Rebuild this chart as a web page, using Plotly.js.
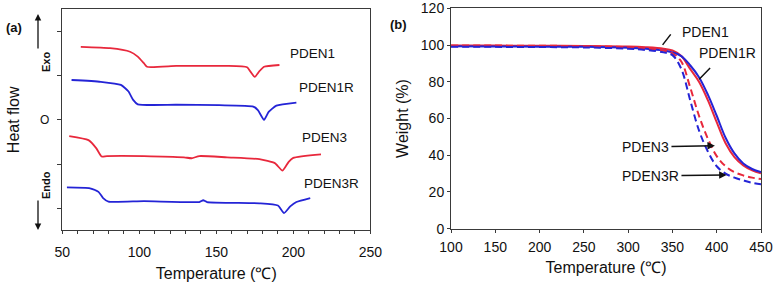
<!DOCTYPE html>
<html>
<head>
<meta charset="utf-8">
<script src="https://cdn.plot.ly/plotly-3.0.1.min.js"></script>
<style>html,body{margin:0;padding:0;background:#fff;}#chart{width:774px;height:286px;}</style>
</head>
<body>
<div id="chart"></div>
<script>
// ---- Panel (a): DSC curves (offset heat flow, arbitrary units) ----
const dscT_PDEN1  = [62, 81, 94, 99, 103, 105, 124, 142, 157, 170, 172, 175, 178, 181, 191];
const dscHF_PDEN1 = [3.65, 3.62, 3.54, 3.43, 3.28, 3.20, 3.22, 3.22, 3.22, 3.19, 3.10, 2.97, 3.10, 3.20, 3.24];

const dscT_PDEN1R  = [56, 75, 88, 93, 96, 99, 124, 152, 174, 177, 181, 184, 189, 202];
const dscHF_PDEN1R = [2.90, 2.86, 2.79, 2.64, 2.45, 2.35, 2.34, 2.33, 2.30, 2.22, 2.00, 2.18, 2.32, 2.39];

const dscT_PDEN3  = [54.5, 67, 72, 75.5, 79, 103, 129, 134, 139, 157, 178, 188, 193, 197, 200, 218];
const dscHF_PDEN3 = [1.63, 1.54, 1.36, 1.17, 1.18, 1.18, 1.15, 1.13, 1.18, 1.15, 1.11, 1.02, 0.85, 1.05, 1.14, 1.22];

const dscT_PDEN3R  = [53, 68, 73.5, 76.5, 80, 103, 139, 141.5, 144, 178, 190, 194, 198, 202, 211];
const dscHF_PDEN3R = [0.47, 0.45, 0.37, 0.23, 0.15, 0.16, 0.14, 0.18, 0.14, 0.11, 0.06, -0.11, 0.04, 0.14, 0.23];

// ---- Panel (b): TGA curves ----
const tgaT = [100, 150, 200, 250, 300, 320, 340, 350, 360, 370, 380, 390, 400, 410, 420, 430, 440, 450];
const tgaW_PDEN1  = [99.8, 99.7, 99.6, 99.5, 99.2, 98.8, 98.0, 97.0, 94.0, 87.0, 80.0, 70.0, 58.0, 46.5, 39.0, 34.5, 31.8, 30.2];
const tgaW_PDEN1R = [99.3, 99.2, 99.1, 99.0, 98.5, 98.0, 97.0, 96.0, 94.0, 89.0, 82.5, 73.0, 61.5, 49.5, 41.0, 35.5, 32.5, 30.8];
const tgaW_PDEN3  = [99.8, 99.7, 99.6, 99.4, 98.8, 98.2, 97.0, 95.5, 91.0, 77.0, 61.5, 49.0, 39.5, 34.0, 30.8, 29.0, 27.8, 27.0];
const tgaW_PDEN3R = [99.0, 99.0, 98.9, 98.7, 98.0, 97.3, 96.0, 94.5, 87.0, 70.0, 53.5, 42.0, 34.0, 30.0, 27.8, 26.3, 25.0, 24.2];

const seriesNames = ['PDEN1', 'PDEN1R', 'PDEN3', 'PDEN3R'];
const xTicksA = [50, 100, 150, 200, 250];
const xTicksB = [100, 150, 200, 250, 300, 350, 400, 450];
const yTicksB = [0, 20, 40, 60, 80, 100, 120];

const RED = '#e8283c', BLUE = '#2424d6';
const FONT = '"Liberation Sans", Arial, sans-serif';
const W = 774, H = 286;
const px = v => v / W, py = v => 1 - v / H;

const traces = [
  {x: dscT_PDEN1, y: dscHF_PDEN1, name: seriesNames[0], xaxis: 'x', yaxis: 'y', mode: 'lines', line: {color: RED, width: 1.8, shape: 'spline', smoothing: 0.5}},
  {x: dscT_PDEN1R, y: dscHF_PDEN1R, name: seriesNames[1], xaxis: 'x', yaxis: 'y', mode: 'lines', line: {color: BLUE, width: 1.8, shape: 'spline', smoothing: 0.5}},
  {x: dscT_PDEN3, y: dscHF_PDEN3, name: seriesNames[2], xaxis: 'x', yaxis: 'y', mode: 'lines', line: {color: RED, width: 1.8, shape: 'spline', smoothing: 0.5}},
  {x: dscT_PDEN3R, y: dscHF_PDEN3R, name: seriesNames[3], xaxis: 'x', yaxis: 'y', mode: 'lines', line: {color: BLUE, width: 1.8, shape: 'spline', smoothing: 0.5}},
  {x: tgaT, y: tgaW_PDEN1, name: seriesNames[0], xaxis: 'x2', yaxis: 'y2', mode: 'lines', line: {color: RED, width: 2, shape: 'spline'}},
  {x: tgaT, y: tgaW_PDEN1R, name: seriesNames[1], xaxis: 'x2', yaxis: 'y2', mode: 'lines', line: {color: BLUE, width: 2, shape: 'spline'}},
  {x: tgaT, y: tgaW_PDEN3, name: seriesNames[2], xaxis: 'x2', yaxis: 'y2', mode: 'lines', line: {color: RED, width: 2, dash: '7px,4px', shape: 'spline'}},
  {x: tgaT, y: tgaW_PDEN3R, name: seriesNames[3], xaxis: 'x2', yaxis: 'y2', mode: 'lines', line: {color: BLUE, width: 2, dash: '7px,4px', shape: 'spline'}}
];

const axisCommon = {
  showline: true, linecolor: '#3a3a3a', linewidth: 1, mirror: true,
  ticks: 'outside', tickcolor: '#3a3a3a', showgrid: false, zeroline: false,
  tickfont: {family: FONT, size: 14, color: '#111'}
};

const labelFont = {family: FONT, size: 13.5, color: '#111'};
const labelFontB = {family: FONT, size: 14, color: '#111'};

const annotations = [
  // panel labels
  {xref: 'paper', yref: 'paper', x: px(4), y: py(18), xanchor: 'left', text: '<b>(a)</b>', showarrow: false, font: {family: FONT, size: 13, color: '#111'}},
  {xref: 'paper', yref: 'paper', x: px(388), y: py(15), xanchor: 'left', text: '<b>(b)</b>', showarrow: false, font: {family: FONT, size: 13, color: '#111'}},
  // Exo / Endo markers
  {xref: 'paper', yref: 'paper', x: px(38), y: py(62), yanchor: 'middle', text: '<b>Exo</b>', textangle: -90, showarrow: false, font: {family: FONT, size: 11, color: '#111'}},
  {xref: 'paper', yref: 'paper', x: px(38), y: py(120), text: 'O', showarrow: false, font: {family: FONT, size: 12, color: '#111'}},
  {xref: 'paper', yref: 'paper', x: px(38), y: py(185), yanchor: 'middle', text: '<b>Endo</b>', textangle: -90, showarrow: false, font: {family: FONT, size: 11, color: '#111'}},
  {xref: 'paper', yref: 'paper', x: px(38), y: py(14), axref: 'pixel', ayref: 'pixel', ax: 0, ay: 36, text: '', showarrow: true, arrowhead: 2, arrowsize: 1, arrowwidth: 1.3, arrowcolor: '#111'},
  {xref: 'paper', yref: 'paper', x: px(38), y: py(230), axref: 'pixel', ayref: 'pixel', ax: 0, ay: -31, text: '', showarrow: true, arrowhead: 2, arrowsize: 1, arrowwidth: 1.3, arrowcolor: '#111'},
  // panel (a) curve labels
  {xref: 'x', yref: 'y', x: 196.6, y: 3.49, xanchor: 'left', text: seriesNames[0], showarrow: false, font: labelFont},
  {xref: 'x', yref: 'y', x: 202.4, y: 2.72, xanchor: 'left', text: seriesNames[1], showarrow: false, font: labelFont},
  {xref: 'x', yref: 'y', x: 204.4, y: 1.61, xanchor: 'left', text: seriesNames[2], showarrow: false, font: labelFont},
  {xref: 'x', yref: 'y', x: 205.6, y: 0.57, xanchor: 'left', text: seriesNames[3], showarrow: false, font: labelFont},
  // panel (b) curve labels
  {xref: 'x2', yref: 'y2', x: 358.5, y: 107.2, xanchor: 'left', text: seriesNames[0], showarrow: false, font: labelFontB},
  {xref: 'x2', yref: 'y2', x: 377.6, y: 95.7, xanchor: 'left', text: seriesNames[1], showarrow: false, font: labelFontB},
  {xref: 'x2', yref: 'y2', x: 290.7, y: 44.7, xanchor: 'left', text: seriesNames[2], showarrow: false, font: labelFontB},
  {xref: 'x2', yref: 'y2', x: 290.7, y: 28.9, xanchor: 'left', text: seriesNames[3], showarrow: false, font: labelFontB},
  // panel (b) pointer lines
  {xref: 'x2', yref: 'y2', axref: 'x2', ayref: 'y2', x: 338.9, y: 100.1, ax: 349.4, ay: 106.6, text: '', showarrow: true, arrowhead: 0, arrowwidth: 1.5, arrowcolor: '#111'},
  {xref: 'x2', yref: 'y2', axref: 'x2', ayref: 'y2', x: 380.2, y: 81.4, ax: 394.2, ay: 88.3, text: '', showarrow: true, arrowhead: 0, arrowwidth: 1.5, arrowcolor: '#111'},
  {xref: 'x2', yref: 'y2', axref: 'x2', ayref: 'y2', x: 398, y: 45.2, ax: 347.2, ay: 44.7, text: '', showarrow: true, arrowhead: 2, arrowsize: 1, arrowwidth: 1.5, arrowcolor: '#111'},
  {xref: 'x2', yref: 'y2', axref: 'x2', ayref: 'y2', x: 411.2, y: 29.3, ax: 358.5, ay: 28.9, text: '', showarrow: true, arrowhead: 2, arrowsize: 1, arrowwidth: 1.5, arrowcolor: '#111'}
];

const layout = {
  width: W, height: H,
  margin: {l: 0, r: 0, t: 0, b: 0},
  paper_bgcolor: '#fff', plot_bgcolor: '#fff',
  showlegend: false,
  font: {family: FONT, color: '#111'},
  xaxis: Object.assign({}, axisCommon, {
    domain: [px(62.3), px(370.3)], range: [50, 250], tickvals: xTicksA, ticklen: 3,
    minor: {dtick: 10, ticklen: 3, ticks: 'outside', tickcolor: '#3a3a3a'},
    ticklabelstandoff: 6,
    title: {text: 'Temperature (℃)', font: {family: FONT, size: 16, color: '#111'}, standoff: 8},
    anchor: 'y'
  }),
  yaxis: Object.assign({}, axisCommon, {
    domain: [py(230.3), py(9.3)], range: [-0.5, 4.5], tickvals: [0, 1, 2, 3, 4], showticklabels: false, ticklen: 4,
    title: {text: 'Heat flow', font: {family: FONT, size: 16, color: '#111'}, standoff: 33},
    anchor: 'x'
  }),
  xaxis2: Object.assign({}, axisCommon, {
    domain: [px(451), px(761)], range: [100, 450], tickvals: xTicksB, ticklen: 3,
    ticklabelstandoff: 2,
    title: {text: 'Temperature (℃)', font: {family: FONT, size: 16, color: '#111'}, standoff: 8},
    anchor: 'y2'
  }),
  yaxis2: Object.assign({}, axisCommon, {
    domain: [py(228.7), py(8.3)], range: [0, 120], tickvals: yTicksB, ticklen: 3,
    title: {text: 'Weight (%)', font: {family: FONT, size: 16, color: '#111'}, standoff: 8},
    anchor: 'x2'
  }),
  annotations: annotations
};

Plotly.newPlot('chart', traces, layout, {staticPlot: true, displayModeBar: false});
</script>
</body>
</html>
